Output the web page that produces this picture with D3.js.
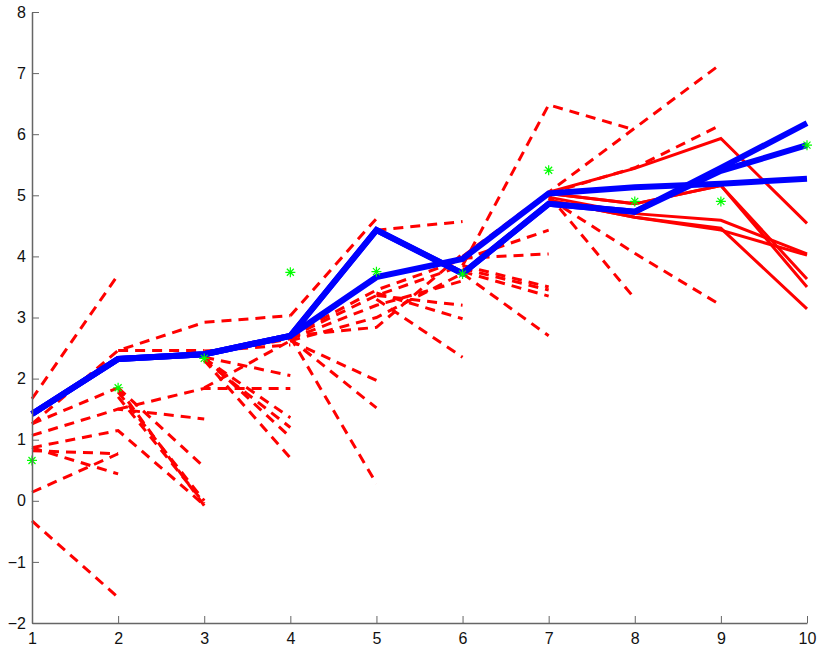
<!DOCTYPE html>
<html>
<head>
<meta charset="utf-8">
<script src="https://cdn.jsdelivr.net/npm/d3@7"></script>
<style>
    body { margin: 0; background: #fff; }
    text { font-family: "Liberation Sans", Arial, sans-serif; }
</style>
</head>
<body>
<svg id="grafico"></svg>
<script>
// dados
var xs = [1, 2, 3, 4, 5, 6, 7, 8, 9, 10]
var observacoes = [0.66, 1.85, 2.33, 3.74, 3.75, 3.71, 5.41, 4.90, 4.90, 5.82]

// caminhos azuis (estimativas)
var azul1 = [1.42, 2.32, 2.40, 2.70, 3.66, 3.96, 5.03, 5.13, 5.19, 5.27]
var azul2 = [1.42, 2.32, 2.40, 2.70, 4.43, 3.72, 4.86, 4.73, 5.45, 6.18]
var azul3 = [1.42, 2.32, 2.40, 2.70, 4.43, 3.72, 4.86, 4.73, 5.40, 5.82]

// linhas vermelhas cheias, todas comecam em x=7
var inicioCheia = 7
var cheias = [
    [5.05, 5.44, 5.93, 4.54],
    [5.03, 4.86, 5.16, 3.63],
    [5.03, 4.86, 5.16, 3.50],
    [4.97, 4.70, 4.59, 4.04],
    [4.92, 4.64, 4.43, 4.02],
    [4.92, 4.64, 4.46, 3.14]
]

// linhas tracejadas: x inicial + valores
var inicioTracejada = [1, 1, 1, 1, 1, 1, 1, 1, 1,
    2, 2, 2, 2, 2, 2,
    3, 3, 3, 3, 3, 3, 3, 3,
    4, 4, 4, 4, 4, 4, 4, 4, 4,
    5, 5, 5, 5,
    6, 6, 6, 6, 6, 6, 6, 6,
    7, 7, 7]
var tracejadas = [
    [1.67, 3.70],
    [1.26, 2.46, 2.92, 3.03],
    [1.26, 1.85],
    [1.07, 1.50, 1.34],
    [0.87, 1.15, -0.07],
    [0.82, 0.77],
    [0.87, 0.44],
    [0.14, 0.77],
    [-0.33, -1.58],

    [2.46, 2.46],
    [1.50, 1.84, 1.84],
    [1.85, 0.55],
    [1.85, -0.08],
    [1.78, 0.00],
    [1.70, -0.04],

    [2.40, 2.65],
    [2.33, 1.36],
    [2.30, 1.20],
    [2.35, 1.04],
    [2.30, 0.70],
    [1.85, 2.62],
    [2.35, 2.05],
    [2.45, 2.55],

    [3.03, 4.62],
    [2.68, 0.28],
    [2.65, 1.52],
    [2.62, 1.97],
    [2.70, 3.45, 3.95],
    [2.68, 3.36, 3.85],
    [2.65, 3.20, 3.60],
    [2.70, 2.84, 4.04],
    [2.62, 3.00, 3.72],

    [4.43, 4.57],
    [3.40, 2.98],
    [3.30, 2.35],
    [3.36, 3.20],

    [3.85, 6.48, 6.07],
    [4.00, 5.05, 6.10, 7.15],
    [3.95, 4.43],
    [3.97, 4.04],
    [3.80, 3.45],
    [3.75, 3.35],
    [3.72, 2.70],
    [3.85, 3.50],

    [5.03, 5.45, 6.15],
    [5.00, 3.31],
    [4.95, 4.05, 3.20]
]

var yTicks = [-2, -1, 0, 1, 2, 3, 4, 5, 6, 7, 8]

const width = 821
const height = 648

var svg = d3.select("#grafico")
    .attr("width", width)
    .attr("height", height)
    .style("background-color", "#fff")

var x = d3.scaleLinear().domain([1, 10]).range([32, 807])
var y = d3.scaleLinear().domain([-2, 8]).range([623, 12])

// transforma lista de valores em pontos [x, y]
function pontos(x0, valores) {
    return valores.map((v, i) => [x0 + i, v])
}

var linha = d3.line()
    .x(d => x(d[0]))
    .y(d => y(d[1]))

// tracejadas primeiro (ficam por baixo)
svg.append("g")
    .selectAll("path")
    .data(tracejadas)
    .join("path")
    .attr("d", (d, i) => linha(pontos(inicioTracejada[i], d)))
    .attr("fill", "none")
    .attr("stroke", "#ff0000")
    .attr("stroke-width", 3)
    .attr("stroke-dasharray", "10,7")

svg.append("g")
    .selectAll("path")
    .data(cheias)
    .join("path")
    .attr("d", d => linha(pontos(inicioCheia, d)))
    .attr("fill", "none")
    .attr("stroke", "#ff0000")
    .attr("stroke-width", 3)

svg.append("g")
    .selectAll("path")
    .data([azul1, azul2, azul3])
    .join("path")
    .attr("d", d => linha(pontos(1, d)))
    .attr("fill", "none")
    .attr("stroke", "#0000ff")
    .attr("stroke-width", 6)
    .attr("stroke-linejoin", "miter")

// estrelinhas verdes
var r = 5
var dd = r * 0.7
var estrela = "M" + (-r) + ",0h" + (2 * r) + "M0," + (-r) + "v" + (2 * r) +
    "M" + (-dd) + "," + (-dd) + "l" + (2 * dd) + "," + (2 * dd) +
    "M" + (-dd) + "," + dd + "l" + (2 * dd) + "," + (-2 * dd)

svg.append("g")
    .selectAll("path")
    .data(observacoes)
    .join("path")
    .attr("transform", (d, i) => "translate(" + x(xs[i]) + "," + y(d) + ")")
    .attr("d", estrela)
    .attr("stroke", "#00ff00")
    .attr("stroke-width", 1.2)
    .attr("fill", "none")

// eixos
var eixoX = svg.append("g")
    .attr("transform", "translate(0," + y(-2) + ")")
    .call(d3.axisBottom(x).tickValues(xs).tickFormat(d3.format("d"))
        .tickSizeInner(-7).tickSizeOuter(0).tickPadding(10))

var eixoY = svg.append("g")
    .attr("transform", "translate(" + x(1) + ",0)")
    .call(d3.axisLeft(y).tickValues(yTicks).tickFormat(d3.format("d"))
        .tickSizeInner(-7).tickSizeOuter(0).tickPadding(6))

svg.selectAll(".domain").attr("stroke", "#666").attr("stroke-width", 1.5)
svg.selectAll(".tick line").attr("stroke", "#666")
svg.selectAll(".tick text")
    .style("font-size", "16px")
    .style("font-family", "'Liberation Sans', Arial, sans-serif")
    .attr("fill", "#111")
</script>
</body>
</html>
